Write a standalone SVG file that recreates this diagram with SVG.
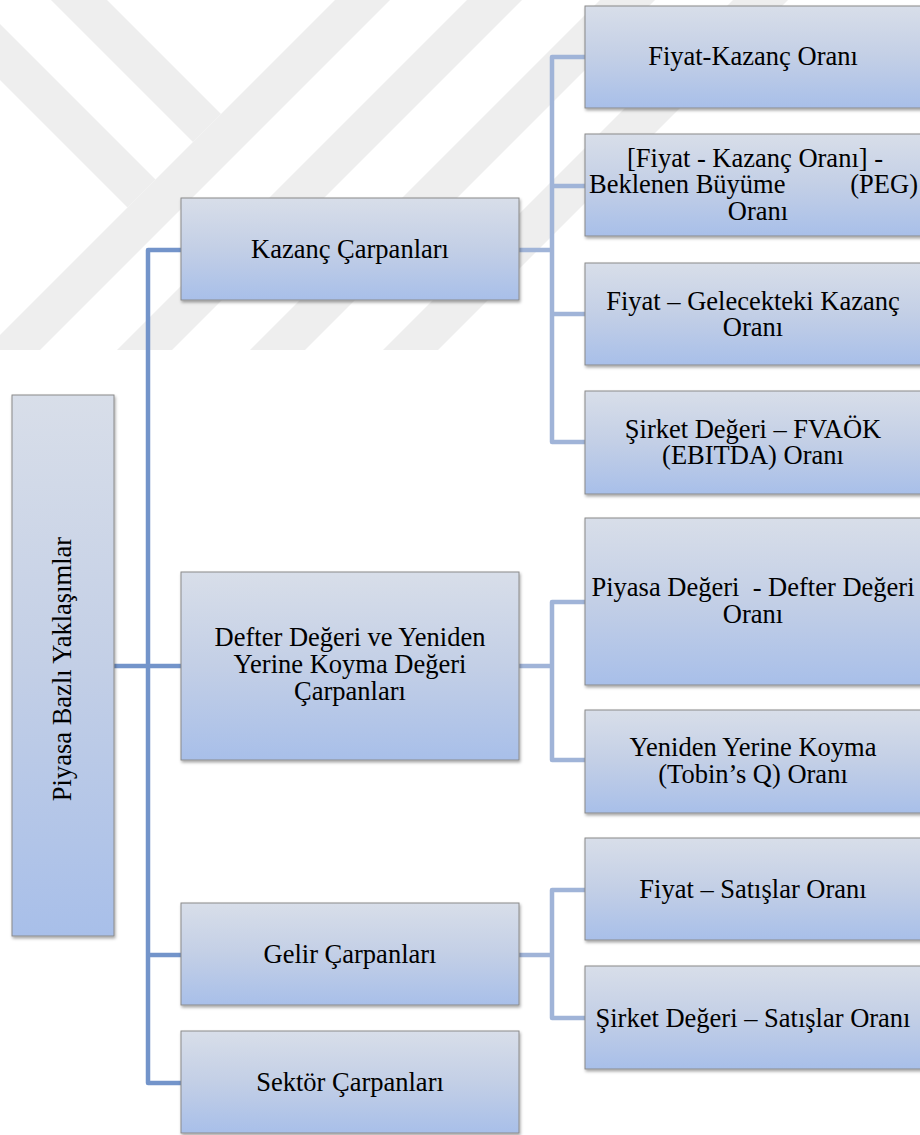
<svg xmlns="http://www.w3.org/2000/svg" width="920" height="1135" viewBox="0 0 920 1135">
<defs>
<linearGradient id="boxFill" x1="0" y1="0" x2="0" y2="1">
<stop offset="0" stop-color="#d8dee9"/>
<stop offset="0.5" stop-color="#c3cfe6"/>
<stop offset="1" stop-color="#a8bfe9"/>
</linearGradient>
<filter id="shadow" x="-5%" y="-5%" width="115%" height="120%">
<feDropShadow dx="1" dy="2" stdDeviation="1.5" flood-color="#000" flood-opacity="0.35"/>
</filter>
<clipPath id="wmClip"><rect x="0" y="0" width="920" height="350"/></clipPath>
</defs>
<style>
.box{fill:url(#boxFill);stroke:#8a8a8a;stroke-width:1;filter:url(#shadow)}
.t{font-family:"Liberation Serif","Times New Roman",serif;font-size:26.5px;fill:#000;text-anchor:middle;white-space:pre}
.c1{fill:none;stroke:#7394ca;stroke-width:4.5;stroke-linejoin:round}
.c2{fill:none;stroke:#a0b4d8;stroke-width:4.5;stroke-linejoin:round}
.wm{fill:#eeeeee}
</style>
<rect width="920" height="1135" fill="#ffffff"/>
<g id="watermark" clip-path="url(#wmClip)">
<polygon class="wm" points="335,0 390,0 40,350 -15,350"/>
<polygon class="wm" points="467,0 522,0 172,350 117,350"/>
<polygon class="wm" points="600,0 655,0 305,350 250,350"/>
<polygon class="wm" points="733,0 788,0 438,350 383,350"/>
<polygon class="wm" points="51,0 107,0 221,114 193,142"/>
<polygon class="wm" points="0,24 0,80 127.5,207.5 155.5,179.5"/>
</g>
<g id="connectors">
<path class="c1" d="M114,666 H181"/>
<path class="c1" d="M181,250 H148 V1083 H181"/>
<path class="c1" d="M148,955 H181"/>
<path class="c2" d="M519,250 H552"/>
<path class="c2" d="M585,57 H552 V442 H585"/>
<path class="c2" d="M552,186 H585"/>
<path class="c2" d="M552,314 H585"/>
<path class="c2" d="M519,666 H552"/>
<path class="c2" d="M585,602 H552 V760 H585"/>
<path class="c2" d="M519,955 H552"/>
<path class="c2" d="M585,890 H552 V1018 H585"/>
</g>
<g id="root">
<rect class="box" x="12" y="395" width="102" height="541"/>
<text class="t" transform="translate(71,669) rotate(-90)">Piyasa Bazlı Yaklaşımlar</text>
</g>
<g id="kazanc">
<rect class="box" x="181" y="198" width="338" height="102"/>
<text class="t" x="350" y="258">Kazanç Çarpanları</text>
</g>
<g id="defter">
<rect class="box" x="181" y="572" width="338" height="188"/>
<text class="t" x="350" y="646">Defter Değeri ve Yeniden</text>
<text class="t" x="350" y="673">Yerine Koyma Değeri</text>
<text class="t" x="350" y="700">Çarpanları</text>
</g>
<g id="gelir">
<rect class="box" x="181" y="903" width="338" height="102"/>
<text class="t" x="350" y="963">Gelir Çarpanları</text>
</g>
<g id="sektor">
<rect class="box" x="181" y="1031" width="338" height="102"/>
<text class="t" x="350" y="1091">Sektör Çarpanları</text>
</g>
<g id="fk">
<rect class="box" x="585" y="6" width="340" height="102"/>
<text class="t" x="753" y="65">Fiyat-Kazanç Oranı</text>
</g>
<g id="peg">
<rect class="box" x="585" y="134" width="340" height="102"/>
<text class="t" x="755" y="167">[Fiyat - Kazanç Oranı] -</text>
<text class="t" x="589" y="193" style="text-anchor:start">Beklenen Büyüme</text>
<text class="t" x="918" y="193" style="text-anchor:end">(PEG)</text>
<text class="t" x="758" y="219.5">Oranı</text>
</g>
<g id="gelecek">
<rect class="box" x="585" y="263" width="340" height="102"/>
<text class="t" x="753" y="309.5">Fiyat – Gelecekteki Kazanç</text>
<text class="t" x="753" y="335.5">Oranı</text>
</g>
<g id="fvaok">
<rect class="box" x="585" y="391" width="340" height="103"/>
<text class="t" x="753" y="438">Şirket Değeri – FVAÖK</text>
<text class="t" x="753" y="464">(EBITDA) Oranı</text>
</g>
<g id="pddd">
<rect class="box" x="585" y="518" width="340" height="167"/>
<text class="t" x="753" y="596">Piyasa Değeri  - Defter Değeri</text>
<text class="t" x="753" y="623">Oranı</text>
</g>
<g id="tobin">
<rect class="box" x="585" y="710" width="340" height="103"/>
<text class="t" x="753" y="756">Yeniden Yerine Koyma</text>
<text class="t" x="753" y="783">(Tobin’s Q) Oranı</text>
</g>
<g id="fs">
<rect class="box" x="585" y="838" width="340" height="102"/>
<text class="t" x="753" y="898">Fiyat – Satışlar Oranı</text>
</g>
<g id="ss">
<rect class="box" x="585" y="966" width="340" height="103"/>
<text class="t" x="753" y="1027">Şirket Değeri – Satışlar Oranı</text>
</g>
</svg>
